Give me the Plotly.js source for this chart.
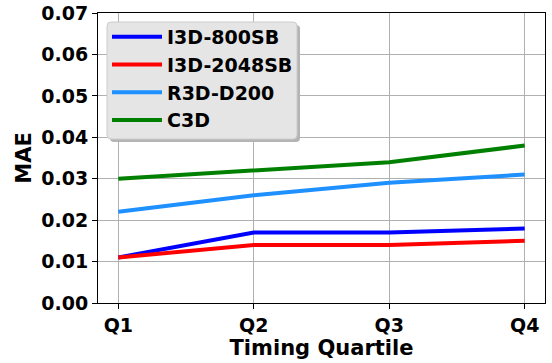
<!DOCTYPE html>
<html>
<head>
<meta charset="utf-8">
<script src="https://cdn.plot.ly/plotly-3.0.1.min.js"></script>
<style>html,body{margin:0;padding:0;background:#fff;}#chart{width:552px;height:363px;}</style>
</head>
<body>
<div id="chart"></div>
<script>
const quartiles = ["Q1", "Q2", "Q3", "Q4"];
const i3d800 = [0.011, 0.017, 0.017, 0.018];
const i3d2048 = [0.011, 0.014, 0.014, 0.015];
const r3d200 = [0.022, 0.026, 0.029, 0.031];
const c3d = [0.030, 0.032, 0.034, 0.038];
const yTicks = [0, 0.01, 0.02, 0.03, 0.04, 0.05, 0.06, 0.07];

const F = "DejaVu Sans, sans-serif";
function tr(name, y, color) {
  return {x: quartiles, y: y, name: name, type: "scatter", mode: "lines",
          line: {color: color, width: 4}};
}
const data = [
  tr("I3D-800SB", i3d800, "#0000ff"),
  tr("I3D-2048SB", i3d2048, "#ff0000"),
  tr("R3D-D200", r3d200, "#1e90ff"),
  tr("C3D", c3d, "#008000")
];
const px = v => (v - 98) / 447, py = v => (303 - v) / 290;
function rr(x0, y0, x1, y1, r) {
  const P = (x, y) => px(x) + "," + py(y);
  return "M" + P(x0 + r, y0) + " L" + P(x1 - r, y0) + " Q" + P(x1, y0) + " " + P(x1, y0 + r) +
         " L" + P(x1, y1 - r) + " Q" + P(x1, y1) + " " + P(x1 - r, y1) +
         " L" + P(x0 + r, y1) + " Q" + P(x0, y1) + " " + P(x0, y1 - r) +
         " L" + P(x0, y0 + r) + " Q" + P(x0, y0) + " " + P(x0 + r, y0) + " Z";
}
const layout = {
  width: 552, height: 363,
  margin: {l: 98, r: 7, t: 13, b: 60},
  paper_bgcolor: "#fff", plot_bgcolor: "#fff",
  font: {family: F, color: "#000"},
  showlegend: true,
  legend: {x: px(107), y: py(18), xanchor: "left", yanchor: "top",
           bgcolor: "rgba(0,0,0,0)", borderwidth: 0,
           font: {family: F, size: 19, weight: "bold", color: "#000"},
           itemwidth: 50, tracegroupgap: 0},
  xaxis: {type: "category", range: [-0.15, 3.15],
          showline: true, linecolor: "#000", linewidth: 1, mirror: true,
          showgrid: true, gridcolor: "#b0b0b0", gridwidth: 1,
          ticks: "outside", ticklen: 5, tickcolor: "#000",
          tickfont: {family: F, size: 19, weight: "bold"},
          title: {text: "<b>Timing Quartile</b>", font: {family: F, size: 21}, standoff: 3},
          zeroline: false},
  yaxis: {range: [0, 0.07], tickvals: yTicks, tickformat: ".2f",
          showline: true, linecolor: "#000", linewidth: 1, mirror: true,
          showgrid: true, gridcolor: "#b0b0b0", gridwidth: 1,
          ticks: "outside", ticklen: 5, tickcolor: "#000",
          tickfont: {family: F, size: 19, weight: "bold"},
          title: {text: "<b>MAE</b>", font: {family: F, size: 21}, standoff: 3},
          zeroline: false},
  shapes: [
    {type: "path", xref: "paper", yref: "paper", layer: "above",
     path: rr(110, 25, 300, 142, 4), fillcolor: "#b4b4b4", line: {width: 0}},
    {type: "path", xref: "paper", yref: "paper", layer: "above",
     path: rr(107, 22, 297, 139, 4), fillcolor: "#e5e5e5", line: {color: "#cccccc", width: 1}}
  ]
};
Plotly.newPlot("chart", data, layout, {displayModeBar: false, staticPlot: true});
</script>
</body>
</html>
